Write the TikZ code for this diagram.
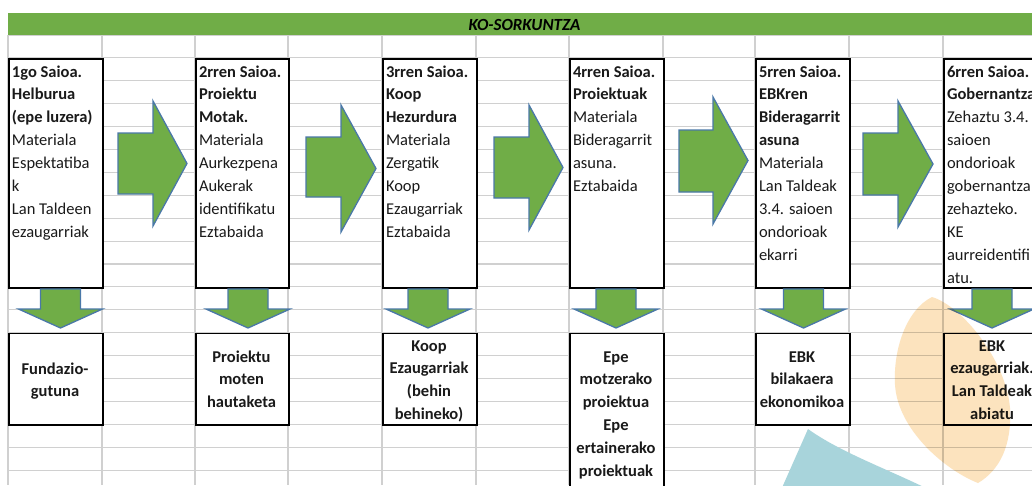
\documentclass[tikz,border=0pt]{standalone}
\usepackage{fontspec}
\setmainfont{Carlito}
\definecolor{gridc}{HTML}{D0D0D0}
\definecolor{titlegreen}{HTML}{70AD47}
\definecolor{arrgreen}{HTML}{70AD47}
\definecolor{arrblue}{HTML}{4A78A8}
\definecolor{txtc}{HTML}{1A1A1A}
\definecolor{peach}{HTML}{FCE3BE}
\definecolor{tealc}{HTML}{A8D4DB}
\newcommand{\myRarrow}[7]{\draw[arrst] (#1,#6) -- (#2,#6) -- (#2,#4) -- (#3,{(#4+#5)/2}) -- (#2,#5) -- (#2,#7) -- (#1,#7) -- cycle;}
\newcommand{\myDarrow}[1]{\draw[arrst] ({#1-20},289) -- ({#1+20},289) -- ({#1+20},309) -- ({#1+42},309) -- (#1,328) -- ({#1-42},309) -- ({#1-20},309) -- cycle;}
\begin{document}
\begin{tikzpicture}[x=1pt,y=-1pt,
  gridline/.style={draw=gridc,line width=1.1pt},
  boxst/.style={draw=black,line width=1.7pt,fill=white,inner sep=0pt,anchor=north west},
  arrst/.style={fill=arrgreen,draw=arrblue,line width=1.3pt,line join=miter},
  toptxt/.style={inner sep=0pt,outer sep=0pt,anchor=north west,align=left,text=txtc,font=\fontsize{16.5}{22.9}\selectfont},
  bottxt/.style={inner sep=0pt,outer sep=0pt,anchor=north,align=center,text=txtc,font=\fontsize{16.5}{22.9}\selectfont\bfseries}]
\useasboundingbox (0,0) rectangle (1032,485);
\clip (0,0) rectangle (1032,485);
\fill[white] (0,0) rectangle (1032,485);
% grid
\foreach \k in {0,...,19} \draw[gridline] (8,35+22.9*\k) -- (1032,35+22.9*\k);
\foreach \x in {8,102,195,288,382,476,569,663,755,849,943} \draw[gridline] (\x,35) -- (\x,485);
% title bar
\node[fill=titlegreen,minimum width=1024pt,minimum height=22pt,inner sep=0pt,anchor=north west] (bar) at (8,13) {};
\node[inner sep=0pt,anchor=base,font=\fontsize{17}{20}\selectfont\bfseries\itshape] (title) at (524.5,30) {KO-SORKUNTZA};
% top boxes
\node[boxst,minimum width=94pt,minimum height=229pt] (b1) at (8,57.9) {};
\node[boxst,minimum width=93pt,minimum height=229pt] (b2) at (195,57.9) {};
\node[boxst,minimum width=94pt,minimum height=229pt] (b3) at (382,57.9) {};
\node[boxst,minimum width=94pt,minimum height=229pt] (b4) at (569,57.9) {};
\node[boxst,minimum width=94pt,minimum height=229pt] (b5) at (755,57.9) {};
\node[boxst,minimum width=94pt,minimum height=229pt] (b6) at (943,57.9) {};
\node[toptxt] (t1) at (12,61) {\strut\textbf{1go Saioa.}\\\textbf{Helburua}\\\textbf{(epe luzera)}\\Materiala\\Espektatiba\\k\\Lan Taldeen\\ezaugarriak};
\node[toptxt] (t2) at (199,61) {\strut\textbf{2rren Saioa.}\\\textbf{Proiektu}\\\textbf{Motak.}\\Materiala\\Aurkezpena\\Aukerak\\identifikatu\\Eztabaida};
\node[toptxt] (t3) at (386,61) {\strut\textbf{3rren Saioa.}\\\textbf{Koop}\\\textbf{Hezurdura}\\Materiala\\Zergatik\\Koop\\Ezaugarriak\\Eztabaida};
\node[toptxt] (t4) at (573,61) {\strut\textbf{4rren Saioa.}\\\textbf{Proiektuak}\\Materiala\\Bideragarrit\\asuna.\\Eztabaida};
\node[toptxt] (t5) at (759,61) {\strut\textbf{5rren Saioa.}\\\textbf{EBKren}\\\textbf{Bideragarrit}\\\textbf{asuna}\\Materiala\\Lan Taldeak\\3.4. saioen\\ondorioak\\ekarri};
\node[toptxt] (t6) at (947,61) {\strut\textbf{6rren Saioa.}\\\textbf{Gobernantza}\\Zehaztu 3.4.\\saioen\\ondorioak\\gobernantza\\zehazteko.\\KE\\aurreidentifi\\atu.};
% right arrows
\myRarrow{118}{153}{187}{101}{226}{133}{194}
\myRarrow{306}{341}{376}{105}{232}{137}{197}
\myRarrow{494}{529}{563}{105}{230}{137}{198}
\myRarrow{679}{713}{748}{97}{224}{130}{192}
\myRarrow{863}{898}{933}{101}{227}{133}{195}
% down arrows
\myDarrow{60.5}
\myDarrow{248}
\myDarrow{428}
\myDarrow{616}
\myDarrow{803.5}
\myDarrow{992}
% bottom boxes
\node[boxst,minimum width=94pt,minimum height=91.6pt] (c1) at (8,332.7) {};
\node[boxst,minimum width=93pt,minimum height=91.6pt] (c2) at (195,332.7) {};
\node[boxst,minimum width=94pt,minimum height=91.6pt] (c3) at (382,332.7) {};
\node[boxst,minimum width=94pt,minimum height=170pt] (c4) at (569,332.7) {};
\node[boxst,minimum width=94pt,minimum height=91.6pt] (c5) at (755,332.7) {};
\node[boxst,minimum width=94pt,minimum height=91.6pt] (c6) at (943,332.7) {};
\node[bottxt] (d1) at (55,358) {\strut Fundazio-\\gutuna};
\node[bottxt] (d2) at (241.5,346) {\strut Proiektu\\moten\\hautaketa};
\node[bottxt] (d3) at (429,335) {\strut Koop\\Ezaugarriak\\(behin\\behineko)};
\node[bottxt] (d4) at (616,346) {\strut Epe\\motzerako\\proiektua\\Epe\\ertainerako\\proiektuak};
\node[bottxt] (d5) at (802,346) {\strut EBK\\bilakaera\\ekonomikoa};
\node[bottxt] (d6) at (992,335) {\strut EBK\\ezaugarriak.\\Lan Taldeak\\abiatu};
% decorative shapes
\begin{scope}[blend mode=multiply]
\fill[peach] (932,297) .. controls (906,310) and (893,350) .. (895,385) .. controls (898,430) and (945,470) .. (978,483) .. controls (1000,470) and (1012,445) .. (1010,408) .. controls (1006,360) and (962,306) .. (932,297) -- cycle;
\end{scope}
\fill[tealc] (808,429) -- (781,490) -- (930,490) .. controls (885,468) and (840,452) .. (808,429) -- cycle;
\end{tikzpicture}
\end{document}
